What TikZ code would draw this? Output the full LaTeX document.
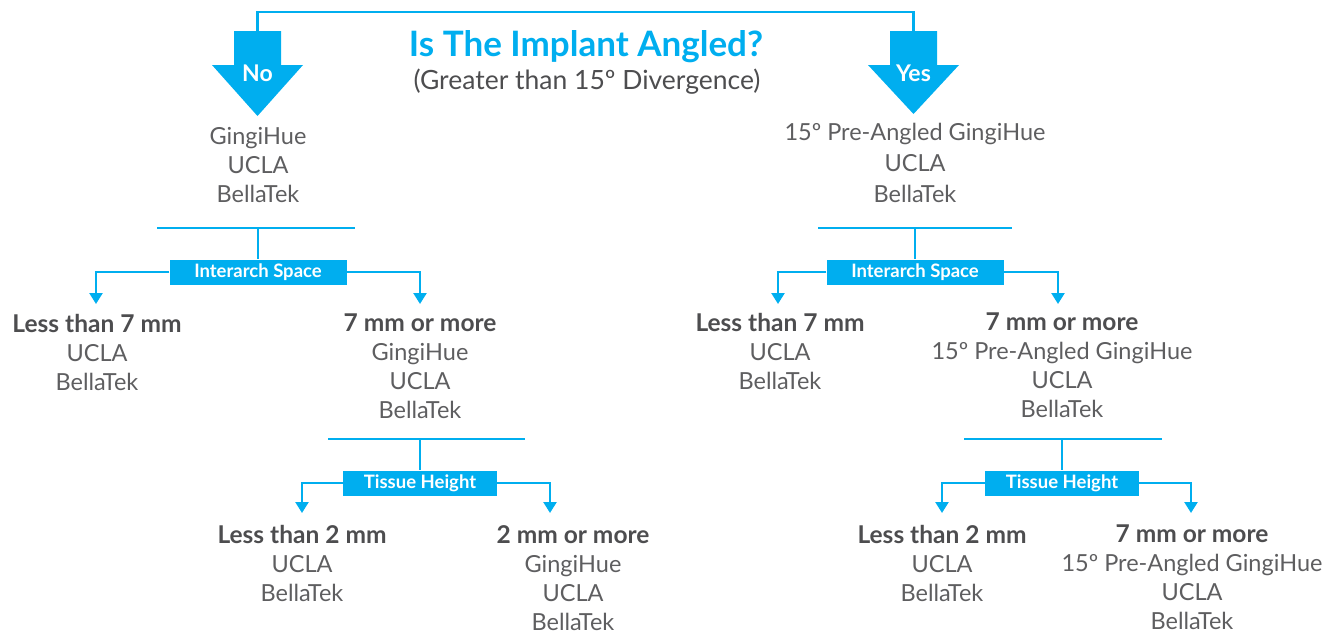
\documentclass[tikz,border=0pt]{standalone}
\usepackage{fontspec}
\setmainfont{Lato}
\usepackage{tikz}
\usetikzlibrary{arrows.meta}

\definecolor{cyanblue}{HTML}{00AEEF}
\definecolor{textgray}{HTML}{5E5E60}
\definecolor{headgray}{HTML}{4D4D4F}
\newcommand{\hd}[1]{{\bfseries\color{headgray}\fontsize{24.5}{29}\selectfont#1}}

\tikzset{
  item/.style={align=center, anchor=north, inner sep=0pt, text=textgray,
    font=\fontsize{23.5}{29}\selectfont},
  tag/.style={fill=cyanblue, text=white, inner sep=0pt, minimum height=25pt,
    font=\bfseries\fontsize{18.5}{20}\selectfont},
  link/.style={draw=cyanblue, line width=2.4pt},
  branch/.style={link, -{Triangle[width=13pt,length=11pt]}},
}

\begin{document}
\begin{tikzpicture}[x=1pt, y=-1pt]
        \useasboundingbox (0,0) rectangle (1338,635);
        % Question
        \node[font=\bfseries\fontsize{35}{38}\selectfont, text=cyanblue] (question) at (586,47) {Is The Implant Angled?};
        \node[font=\fontsize{26.5}{28}\selectfont, text=headgray] (note) at (587,82) {(Greater than 15º Divergence)};
        % Answer arrows
        \fill[cyanblue] (234,31) -- (281,31) -- (281,65) -- (303,65) -- (257.5,116) -- (212,65) -- (234,65) -- cycle;
        \fill[cyanblue] (890,31) -- (937,31) -- (937,65) -- (959,65) -- (913.5,114) -- (868,65) -- (890,65) -- cycle;
        \node[text=white, font=\bfseries\fontsize{23}{25}\selectfont] (no) at (257.5,73) {No};
        \node[text=white, font=\bfseries\fontsize{23}{25}\selectfont] (yes) at (913.5,73) {Yes};
        \coordinate (noTop) at (257.5,31);
        \coordinate (yesTop) at (913.5,31);
        \coordinate (topBar) at (585,12);
        \draw[link] (noTop) |- (topBar) -| (yesTop);

        % Nodes (no)
        \node[item] (noList) at (258,127) {GingiHue\\UCLA\\BellaTek};
        \node[tag, minimum width=177pt] (spaceL) at (258,272) {Interarch Space};
        \node[item] (lessL7) at (97,314) {\hd{Less than 7 mm}\\UCLA\\BellaTek};
        \node[item] (moreL7) at (420,314) {\hd{7 mm or more}\\GingiHue\\UCLA\\BellaTek};
        \node[tag, minimum width=154pt] (tissueL) at (420,483) {Tissue Height};
        \node[item] (lessL2) at (302,525) {\hd{Less than 2 mm}\\UCLA\\BellaTek};
        \node[item] (moreL2) at (573,525) {\hd{2 mm or more}\\GingiHue\\UCLA\\BellaTek};
        \coordinate (barL1w) at (157,228);
        \coordinate (barL1e) at (355,228);
        \coordinate (barL2w) at (328,439);
        \coordinate (barL2e) at (525,439);
        \coordinate (tipL1) at (96,304);
        \coordinate (tipL2) at (420,304);
        \coordinate (tipL3) at (302,513);
        \coordinate (tipL4) at (550,513);
        % Edges (no)
        \draw[link] (barL1w) -- (barL1e);
        \draw[link] (spaceL.north |- barL1w) -- (spaceL.north);
        \draw[branch] (spaceL.west) -| (tipL1);
        \draw[branch] (spaceL.east) -| (tipL2);
        \draw[link] (barL2w) -- (barL2e);
        \draw[link] (tissueL.north |- barL2w) -- (tissueL.north);
        \draw[branch] (tissueL.west) -| (tipL3);
        \draw[branch] (tissueL.east) -| (tipL4);

        % Nodes (yes)
        \node[item, font=\fontsize{23.5}{31}\selectfont] (yesList) at (915,123) {15º Pre-Angled GingiHue\\UCLA\\BellaTek};
        \node[tag, minimum width=177pt] (spaceR) at (915,272) {Interarch Space};
        \node[item] (lessR7) at (780,313) {\hd{Less than 7 mm}\\UCLA\\BellaTek};
        \node[item] (moreR7) at (1062,313) {\hd{7 mm or more}\\15º Pre-Angled GingiHue\\UCLA\\BellaTek};
        \node[tag, minimum width=154pt] (tissueR) at (1062,483) {Tissue Height};
        \node[item] (lessR2) at (942,525) {\hd{Less than 2 mm}\\UCLA\\BellaTek};
        \node[item] (moreR2) at (1192,525) {\hd{7 mm or more}\\15º Pre-Angled GingiHue\\UCLA\\BellaTek};
        \coordinate (barR1w) at (818,228);
        \coordinate (barR1e) at (1012,228);
        \coordinate (barR2w) at (964,439);
        \coordinate (barR2e) at (1162,439);
        \coordinate (tipR1) at (778,304);
        \coordinate (tipR2) at (1058,304);
        \coordinate (tipR3) at (942,513);
        \coordinate (tipR4) at (1191,513);
        % Edges (yes)
        \draw[link] (barR1w) -- (barR1e);
        \draw[link] (spaceR.north |- barR1w) -- (spaceR.north);
        \draw[branch] (spaceR.west) -| (tipR1);
        \draw[branch] (spaceR.east) -| (tipR2);
        \draw[link] (barR2w) -- (barR2e);
        \draw[link] (tissueR.north |- barR2w) -- (tissueR.north);
        \draw[branch] (tissueR.west) -| (tipR3);
        \draw[branch] (tissueR.east) -| (tipR4);
\end{tikzpicture}
\end{document}
